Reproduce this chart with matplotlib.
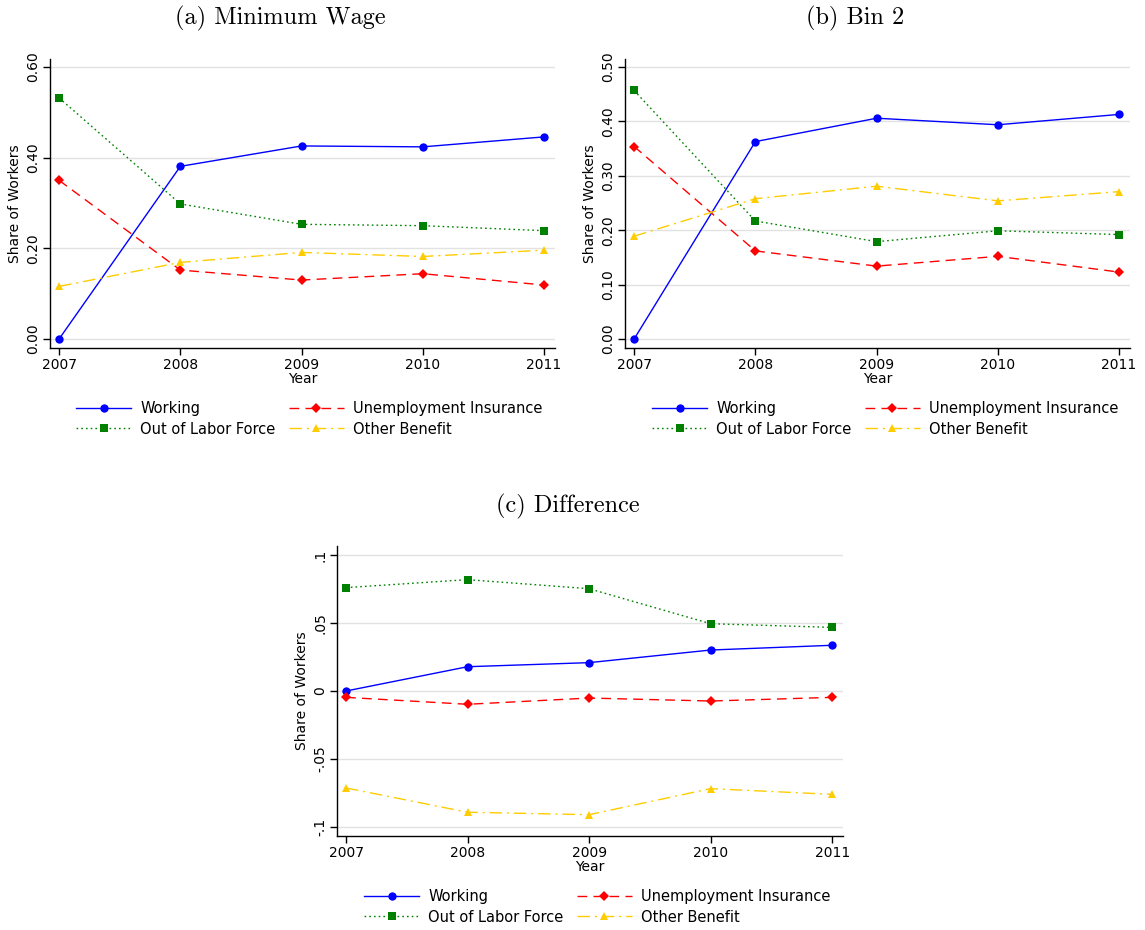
import matplotlib
matplotlib.use("Agg")
import matplotlib.pyplot as plt

years = [2007, 2008, 2009, 2010, 2011]

# (a) minimum wage
mw_working = [0.000, 0.381, 0.426, 0.424, 0.446]
mw_ui = [0.350, 0.152, 0.130, 0.144, 0.119]
mw_olf = [0.532, 0.298, 0.253, 0.250, 0.239]
mw_other = [0.116, 0.169, 0.191, 0.182, 0.196]

# (b) bin 2
b2_working = [0.000, 0.363, 0.406, 0.394, 0.413]
b2_ui = [0.354, 0.162, 0.134, 0.152, 0.123]
b2_olf = [0.457, 0.217, 0.179, 0.199, 0.192]
b2_other = [0.189, 0.258, 0.281, 0.254, 0.271]

# (c) difference
d_working = [0.0000, 0.0179, 0.0209, 0.0302, 0.0337]
d_ui = [-0.0047, -0.0098, -0.0052, -0.0074, -0.0047]
d_olf = [0.0762, 0.0821, 0.0754, 0.0496, 0.0469]
d_other = [-0.0715, -0.0894, -0.0912, -0.0720, -0.0762]

labels = ["Working", "Unemployment Insurance", "Out of Labor Force", "Other Benefit"]

yt_a = [0.0, 0.2, 0.4, 0.6]
yl_a = ["0.00", "0.20", "0.40", "0.60"]
yt_b = [0.0, 0.1, 0.2, 0.3, 0.4, 0.5]
yl_b = ["0.00", "0.10", "0.20", "0.30", "0.40", "0.50"]
yt_c = [-0.1, -0.05, 0.0, 0.05, 0.1]
yl_c = ["-.1", "-.05", "0", ".05", ".1"]

styles = [
    dict(color="#0000ff", linestyle="-", marker="o"),
    dict(color="#ff0000", dashes=(7, 4.5), marker="D", markersize=5.5),
    dict(color="#008000", dashes=(1.2, 2.2), marker="s"),
    dict(color="#ffcc00", dashes=(9, 3.5, 1.5, 3.5), marker="^"),
]

fig = plt.figure(figsize=(11.45, 9.3), dpi=100)


def panel(rect, series, yt, yl, ylim, title, title_x, title_y, leg_x, leg_y):
    ax = fig.add_axes(rect)
    handles = []
    for vals, st, lab in zip(series, styles, labels):
        kw = dict(linewidth=1.0, markersize=6, markeredgewidth=0)
        kw.update(st)
        h, = ax.plot(years, vals, label=lab, zorder=3, **kw)
        handles.append(h)
    ax.set_xlim(2007 - 0.075, 2011 + 0.09)
    ax.set_ylim(*ylim)
    ax.set_xticks(years)
    ax.set_yticks(yt)
    ax.set_yticklabels(yl, rotation=90, va="center")
    ax.tick_params(labelsize=10, length=5, width=1, pad=2)
    for s in ["top", "right"]:
        ax.spines[s].set_visible(False)
    ax.spines["left"].set_linewidth(1)
    ax.spines["bottom"].set_linewidth(1)
    ax.grid(axis="y", color="#e2e2e2", linewidth=1.0, zorder=0)
    ax.set_axisbelow(True)
    ax.set_xlabel("Year", fontsize=10, labelpad=0)
    ax.set_ylabel("Share of Workers", fontsize=10, labelpad=3)
    order = [0, 2, 1, 3]
    fig.legend([handles[i] for i in order], [labels[i] for i in order],
               loc="center", bbox_to_anchor=(leg_x, leg_y), ncol=2,
               frameon=False, fontsize=10.5, handlelength=3.8,
               labelspacing=0.35, columnspacing=0.9, handletextpad=0.6)
    fig.text(title_x, title_y, title, ha="center", va="center",
             fontsize=17.5, family="cmr10")
    return ax


panel([0.0437, 0.6258, 0.441, 0.3108], [mw_working, mw_ui, mw_olf, mw_other],
      yt_a, yl_a, (-0.02, 0.618), "(a) Minimum Wage", 280 / 1145, 1 - 18 / 930,
      309 / 1145, 1 - 419 / 930)
panel([0.5459, 0.6258, 0.441, 0.3108], [b2_working, b2_ui, b2_olf, b2_other],
      yt_b, yl_b, (-0.0166, 0.515), "(b) Bin 2", 855 / 1145, 1 - 18 / 930,
      885 / 1145, 1 - 419 / 930)
panel([0.2943, 0.1011, 0.442, 0.3118], [d_working, d_ui, d_olf, d_other],
      yt_c, yl_c, (-0.1069, 0.1069), "(c) Difference", 568 / 1145, 1 - 506 / 930,
      597 / 1145, 1 - 907 / 930)

fig.savefig("out.png", dpi=100)
